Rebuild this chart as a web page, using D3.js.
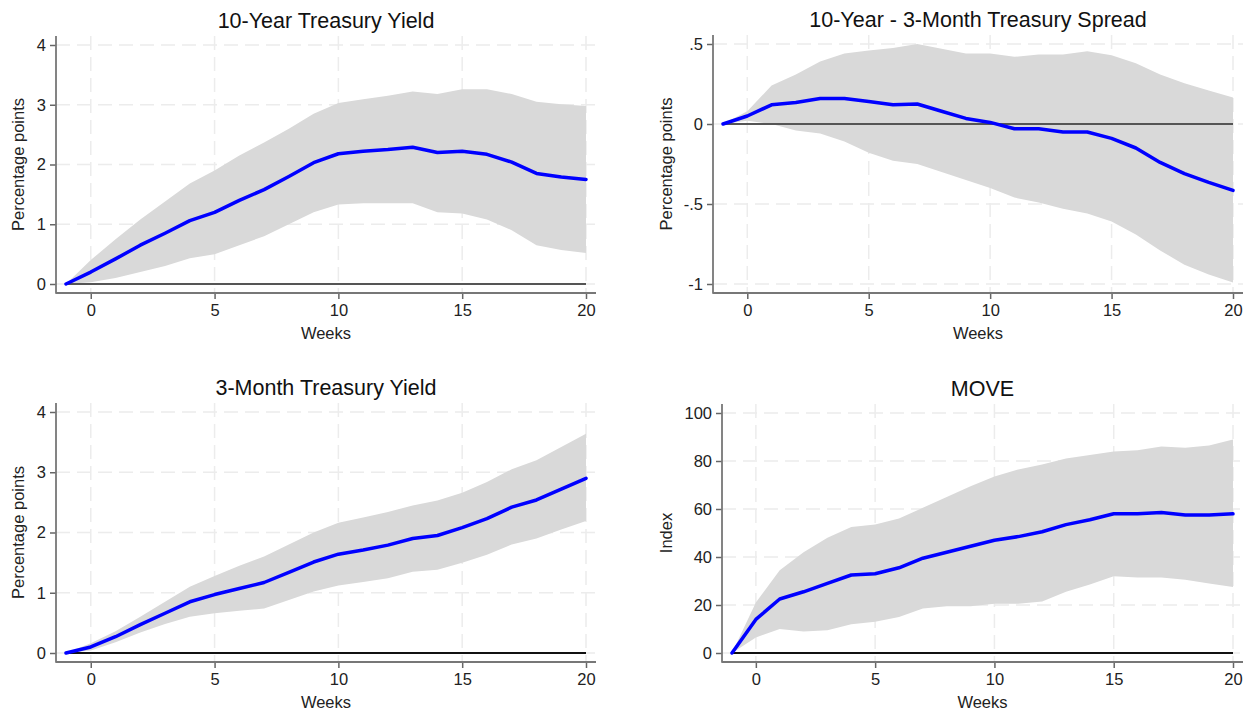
<!DOCTYPE html>
<meta charset="utf-8">
<style>
    body{ margin:0; background:#fff; }
    svg{ font-family:"Liberation Sans",Arial,sans-serif; }
</style>
<svg width="1252" height="713"></svg>
<script src="https://cdn.jsdelivr.net/npm/d3@7"></script>
<script>
    var svg=d3.select("svg");

    var weeks=d3.range(-1,21);

    // 10-Year Treasury Yield
    var y10Est=[0,0.2,0.42,0.65,0.85,1.06,1.2,1.4,1.58,1.8,2.03,2.18,2.22,2.25,2.29,2.2,2.22,2.17,2.04,1.85,1.79,1.75];
    var y10Hi=[0,0.4,0.75,1.08,1.38,1.68,1.9,2.15,2.37,2.6,2.85,3.03,3.09,3.15,3.22,3.18,3.26,3.26,3.18,3.05,3.01,2.98];
    var y10Lo=[0,0.03,0.1,0.2,0.3,0.43,0.5,0.65,0.8,1.0,1.2,1.33,1.35,1.35,1.35,1.2,1.18,1.08,0.9,0.65,0.57,0.52];

    // 10-Year - 3-Month spread
    var sprEst=[0,0.05,0.12,0.135,0.16,0.16,0.14,0.12,0.125,0.08,0.035,0.01,-0.03,-0.03,-0.05,-0.05,-0.09,-0.15,-0.24,-0.31,-0.365,-0.415];
    var sprHi=[0,0.08,0.24,0.31,0.39,0.44,0.46,0.475,0.5,0.47,0.44,0.44,0.42,0.435,0.435,0.455,0.43,0.38,0.31,0.255,0.21,0.165];
    var sprLo=[0,0.02,0.0,-0.04,-0.06,-0.11,-0.18,-0.23,-0.25,-0.3,-0.35,-0.4,-0.46,-0.49,-0.53,-0.56,-0.61,-0.69,-0.79,-0.88,-0.94,-0.99];

    // 3-Month Treasury Yield
    var m3Est=[0,0.1,0.27,0.47,0.66,0.85,0.97,1.07,1.17,1.34,1.51,1.64,1.71,1.79,1.9,1.95,2.08,2.23,2.42,2.54,2.72,2.9];
    var m3Hi=[0,0.16,0.36,0.6,0.85,1.1,1.28,1.45,1.6,1.8,2.0,2.16,2.25,2.34,2.45,2.53,2.66,2.84,3.05,3.2,3.42,3.64];
    var m3Lo=[0,0.04,0.18,0.34,0.48,0.6,0.66,0.7,0.74,0.88,1.02,1.12,1.18,1.24,1.35,1.38,1.5,1.63,1.8,1.9,2.05,2.19];

    // MOVE
    var moveEst=[0,14,22.5,25.5,29,32.5,33,35.5,39.5,42,44.5,47,48.5,50.5,53.5,55.5,58,58,58.5,57.5,57.5,58];
    var moveHi=[0,21,34.5,42,48,52.5,53.5,56,60.5,65,69.5,73.5,76.5,78.5,81,82.5,84,84.5,86,85.5,86.5,89];
    var moveLo=[0,6.5,10,9,9.5,12,13,15,18.5,19.5,19.5,20.5,20.5,21.5,25.5,28.5,32,31.5,31.5,30.5,29,27.5];

    var xTicks=[0,5,10,15,20];
    var pctTicks=[0,1,2,3,4];
    var sprTicks=[-1,-0.5,0,0.5];
    var moveTicks=[0,20,40,60,80,100];

    var panels=[
        {title:"10-Year Treasury Yield",ylab:"Percentage points",est:y10Est,hi:y10Hi,lo:y10Lo,ticks:pctTicks,
         left:56,right:596,top:36,bottom:293,labx:18,zero:"#555"},
        {title:"10-Year - 3-Month Treasury Spread",ylab:"Percentage points",est:sprEst,hi:sprHi,lo:sprLo,ticks:sprTicks,
         left:713,right:1243,top:35,bottom:293,labx:666,zero:"#555"},
        {title:"3-Month Treasury Yield",ylab:"Percentage points",est:m3Est,hi:m3Hi,lo:m3Lo,ticks:pctTicks,
         left:56,right:596,top:403,bottom:662,labx:18,zero:"#111"},
        {title:"MOVE",ylab:"Index",est:moveEst,hi:moveHi,lo:moveLo,ticks:moveTicks,
         left:722,right:1243,top:404,bottom:662,labx:666,zero:"#111"}
    ];

    function fmt(v){
        var s=String(v);
        return s.replace(/^0\./,".").replace(/^-0\./,"-.");
    }

    panels.forEach(function(p){
        var g=svg.append("g");
        var x=d3.scaleLinear().domain([-1,20]).range([p.left+10,p.right-10]);
        var y=d3.scaleLinear().domain(d3.extent(p.ticks)).range([p.bottom-9,p.top+9]);

        // grid
        g.selectAll(".hg").data(p.ticks).enter().append("line")
            .attr("x1",p.left).attr("x2",p.right)
            .attr("y1",function(d){return y(d);}).attr("y2",function(d){return y(d);})
            .attr("stroke","#ececec").attr("stroke-width",1.5).attr("stroke-dasharray","14,7");
        g.selectAll(".vg").data(xTicks).enter().append("line")
            .attr("y1",p.top).attr("y2",p.bottom)
            .attr("x1",function(d){return x(d);}).attr("x2",function(d){return x(d);})
            .attr("stroke","#ececec").attr("stroke-width",1.5).attr("stroke-dasharray","14,7");

        // band
        var area=d3.area()
            .x(function(d,i){return x(weeks[i]);})
            .y0(function(d,i){return y(p.lo[i]);})
            .y1(function(d,i){return y(p.hi[i]);});
        g.append("path").datum(p.est).attr("d",area).attr("fill","#d9d9d9");

        // zero line
        g.append("line").attr("x1",x(-1)).attr("x2",x(20))
            .attr("y1",y(0)).attr("y2",y(0))
            .attr("stroke",p.zero).attr("stroke-width",2);

        // estimate
        var line=d3.line()
            .x(function(d,i){return x(weeks[i]);})
            .y(function(d){return y(d);});
        g.append("path").datum(p.est).attr("d",line)
            .attr("fill","none").attr("stroke","#0000ff").attr("stroke-width",3.5)
            .attr("stroke-linejoin","round").attr("stroke-linecap","round");

        // axes
        var ya=g.append("g").attr("transform","translate("+p.left+",0)")
            .call(d3.axisLeft(y).tickValues(p.ticks).tickFormat(fmt).tickSize(6).tickPadding(4));
        var xa=g.append("g").attr("transform","translate(0,"+p.bottom+")")
            .call(d3.axisBottom(x).tickValues(xTicks).tickSize(6).tickPadding(5));
        [ya,xa].forEach(function(a){
            a.select(".domain").remove();
            a.selectAll("line").attr("stroke","#666").attr("stroke-width",1.5);
            a.selectAll("text").attr("font-size",16.5).attr("fill","#222")
                .attr("font-family","'Liberation Sans',Arial,sans-serif");
        });
        g.append("line").attr("x1",p.left).attr("x2",p.left).attr("y1",p.top).attr("y2",p.bottom+0.75)
            .attr("stroke","#777").attr("stroke-width",1.8);
        g.append("line").attr("x1",p.left).attr("x2",p.right).attr("y1",p.bottom).attr("y2",p.bottom)
            .attr("stroke","#777").attr("stroke-width",1.8);

        // labels
        var cx=(p.left+p.right)/2;
        g.append("text").attr("x",cx).attr("y",p.top-8).attr("text-anchor","middle")
            .attr("font-size",21.5).attr("fill","#111").text(p.title);
        g.append("text").attr("x",cx).attr("y",p.bottom+46).attr("text-anchor","middle")
            .attr("font-size",16.5).attr("fill","#222").text("Weeks");
        g.append("text").attr("transform","translate("+(p.labx+6)+","+((p.top+p.bottom)/2)+") rotate(-90)")
            .attr("text-anchor","middle").attr("font-size",16.5).attr("fill","#222").text(p.ylab);
    });
</script>
